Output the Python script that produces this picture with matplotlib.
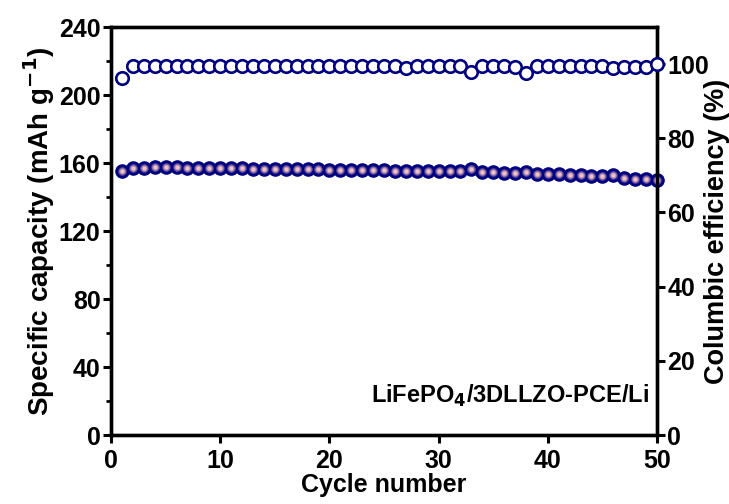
import matplotlib
matplotlib.use("Agg")
import matplotlib.pyplot as plt
from matplotlib.ticker import MultipleLocator

plt.rcParams["font.family"] = ["Liberation Sans", "DejaVu Sans"]
plt.rcParams["font.weight"] = "bold"
plt.rcParams["mathtext.default"] = "bf"

cycles = list(range(1, 51))
capacity = [
    155.5, 156.8, 157.3, 157.4, 157.5, 157.4, 157.2, 157.0, 157.0, 156.9,
    156.9, 156.8, 156.7, 156.6, 156.6, 156.5, 156.4, 156.3, 156.2, 156.1,
    156.0, 155.9, 155.8, 155.7, 155.6, 155.5, 155.5, 155.4, 155.3, 155.3,
    155.2, 155.2, 156.5, 154.6, 154.5, 154.4, 154.4, 154.8, 153.8, 153.5,
    153.3, 153.0, 152.7, 152.4, 152.2, 152.8, 151.0, 150.7, 150.5, 150.0,
]
efficiency = [
    96.2, 99.5, 99.5, 99.6, 99.6, 99.6, 99.6, 99.6, 99.6, 99.6,
    99.6, 99.6, 99.6, 99.6, 99.6, 99.6, 99.6, 99.6, 99.6, 99.6,
    99.6, 99.6, 99.6, 99.6, 99.6, 99.5, 98.9, 99.6, 99.6, 99.6,
    99.6, 99.6, 98.0, 99.6, 99.6, 99.6, 99.2, 97.5, 99.6, 99.6,
    99.6, 99.6, 99.6, 99.5, 99.4, 99.0, 99.1, 99.2, 99.3, 100.0,
]

navy = "#000080"

fig = plt.figure(figsize=(7.29, 5.04), dpi=100)
ax1 = fig.add_axes([0.1523, 0.1369, 0.7489, 0.8095])
ax2 = ax1.twinx()

# shaded "ball" markers: dark rim, then softer pink core layers
ax1.plot(cycles, capacity, "o", ms=10.5, color=navy, mew=0, zorder=3, clip_on=False)
ax1.plot(cycles, capacity, "o", ms=6.2, color="#5a4a98", mew=0, zorder=4, clip_on=False)
ax1.plot(cycles, capacity, "o", ms=4.6, color="#a886ae", mew=0, zorder=5, clip_on=False)
ax1.plot(cycles, capacity, "o", ms=3.0, color="#efc0c4", mew=0, zorder=6, clip_on=False)

ax2.plot(cycles, efficiency, "o", ms=9, mfc="white", mec=navy, mew=1.9, zorder=3, clip_on=False)

ax1.set_xlim(0, 50)
ax1.set_ylim(0, 240)
ax2.set_ylim(0, 110)
ax1.xaxis.set_major_locator(MultipleLocator(10))
ax1.yaxis.set_major_locator(MultipleLocator(40))
ax1.yaxis.set_minor_locator(MultipleLocator(20))
ax2.yaxis.set_major_locator(MultipleLocator(20))

for a in (ax1, ax2):
    for s in a.spines.values():
        s.set_linewidth(2.4)
    a.tick_params(which="major", direction="out", length=6, width=2.2, labelsize=18)
    a.tick_params(which="minor", direction="out", length=3.5, width=2.0)
ax1.tick_params(axis="y", pad=1.5)
ax1.tick_params(axis="x", pad=4)
ax2.tick_params(axis="y", pad=1.5)

ax1.set_xlabel("Cycle number", fontsize=18, fontweight="bold", labelpad=0)
ax1.set_ylabel("Specific capacity (mAh g$^{-1}$)", fontsize=20, fontweight="bold", labelpad=1)
ax2.set_ylabel("Columbic efficiency (%)", fontsize=19.5, fontweight="bold", rotation=90, labelpad=-4)

ax1.text(0.985, 0.095, "LiFePO$_4$/3DLLZO-PCE/Li", transform=ax1.transAxes,
         ha="right", va="center", fontsize=17, fontweight="bold")

fig.savefig("out.png", dpi=100)
